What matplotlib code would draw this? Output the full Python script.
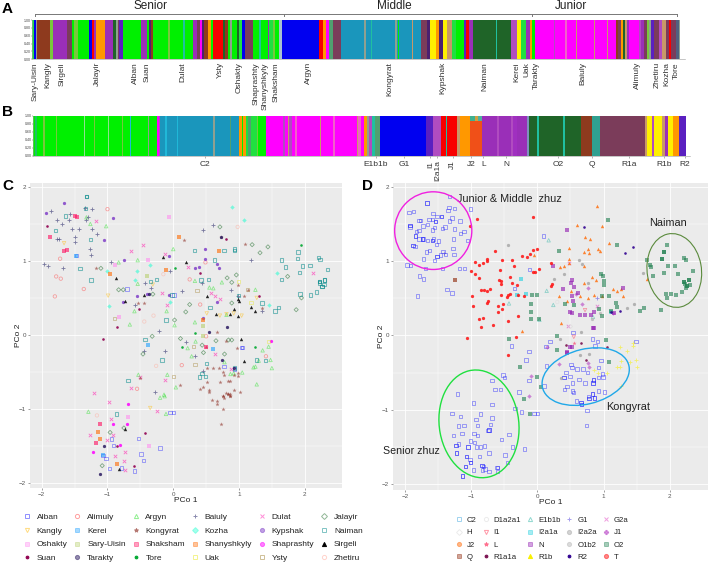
import numpy as np
import matplotlib
matplotlib.use('Agg')
import matplotlib.pyplot as plt
from matplotlib.lines import Line2D
from matplotlib.patches import Ellipse

plt.rcParams['font.family'] = ['Liberation Sans', 'DejaVu Sans']

# colours of the admixture bars
GRN = '#00f000'; OLV = '#78c83c'; TEA = '#20c0a0'; BLU = '#0000f0'; BRW = '#8e3a1e'; PUR = '#9a2fb8'
MAR = '#7b3c5a'; RED = '#f80000'; ORG = '#ff9800'; DGR = '#1f6428'; STL = '#1a96bc'; YEL = '#fff000'
MAG = '#ff00ff'; ORC = '#b04cc0'; TAN = '#c89868'; GRY = '#90a090'; LIM = '#20e040'; VIO = '#5a20c0'
DPU = '#4a2070'; CYA = '#20b8d8'; PNK = '#f060c8'; OTE = '#50a070'; ORD = '#f05018'

# panel A, sample index along the bar
a_edges = [97, 101, 107, 112, 150, 158, 202, 216, 222, 234, 268, 275, 281, 287, 316, 340, 348, 353, 358, 370, 424, 441,
           447, 453, 460, 505, 509, 550, 554, 580, 590, 600, 606, 612, 625, 632, 640, 668, 676, 684, 690, 695, 710, 716,
           726, 735, 758, 778, 782, 804, 808, 818, 826, 838, 846, 958, 970, 978, 988, 998, 1022,
           1092, 1098, 1112, 1116, 1186, 1190, 1194, 1197, 1237, 1240, 1264, 1280, 1290, 1307, 1317, 1330, 1342, 1357,
           1367, 1392, 1398, 1408, 1418, 1489, 1492, 1534, 1552, 1562, 1577, 1590, 1596, 1604, 1662, 1665, 1696, 1700,
           1727, 1730, 1782, 1785, 1822, 1825, 1847, 1854, 1862, 1868, 1874, 1880, 1887, 1917, 1924, 1932, 1940, 1947,
           1954, 1962, 1977, 1987, 1997, 2007, 2012, 2027, 2037, 2040]
a_colors = [LIM, BLU, GRY, BRW, OLV, PUR, MAR, GRN, OLV, GRN, BLU, RED, PUR, ORG, PUR, DGR, GRY, MAR, VIO, GRN, PUR,
            GRN, DPU, BRW, GRN, OLV, GRN, TEA, GRN, PUR, MAR, MAG, DPU, BRW, ORG, GRN, RED, DGR, BRW, GRN, GRY, GRN, DGR, LIM,
            BLU, MAR, GRN, TEA, GRN, PUR, LIM, OLV, GRN, '#a8c0d0', BLU, RED, ORG, MAG, OTE, MAR,
            STL, GRY, STL, TEA, STL, GRY, STL, GRN, STL, TAN, STL, MAR, DPU, YEL, ORG, DPU, YEL, TAN, LIM,
            GRN, VIO, RED, PUR, DGR, TEA, DGR, ORC, YEL, LIM, PUR, ORG, GRN, MAG, ORC, MAG, PNK, MAG,
            TAN, MAG, TAN, MAG, TAN, MAG, BRW, MAR, ORG, DGR, TAN, PUR, MAG, ORC, PUR, MAR, OLV, GRY, VIO,
            MAR, ORC, TAN, MAR, RED, MAR, '#506080', GRY]
a_names = ['Sary-Uisin', 'Kangly', 'Sirgeli', 'Jalayir', 'Alban', 'Suan', 'Dulat', 'Ysty', 'Oshakty', 'Shaprashty',
           'Shanyshkyly', 'Shaksham', 'Argyn', 'Kongyrat', 'Kypshak', 'Naiman', 'Kerei', 'Uak', 'Tarakty', 'Baiuly',
           'Alimuly', 'Zhetiru', 'Kozha', 'Tore']
a_name_pos = [105, 143, 187, 293, 405, 442, 548, 660, 717, 767, 795, 827, 925, 1170, 1327, 1454, 1550, 1579, 1610, 1747,
              1912, 1970, 2000, 2029]
zhuz_names = ['Senior', 'Middle', 'Junior']
zhuz_pos = [450, 1182, 1714]
zhuz_edges = [106, 851, 1597, 2032]

# panel B
b_edges = [100, 106, 110, 128, 135, 168, 171, 252, 255, 283, 286, 325, 328, 365, 368, 390, 393, 444, 447, 472, 476, 480,
           495, 500, 530, 533, 640, 645, 690, 693, 716, 725, 730, 738, 745, 752, 770, 775, 798, 850, 856, 865, 868, 875,
           885, 890, 960, 964, 1000, 1004, 1070, 1075, 1082, 1092, 1100, 1108, 1115, 1124, 1140, 1279, 1299, 1324, 1337,
           1340, 1372, 1380, 1409, 1447, 1492, 1496, 1532, 1538, 1552, 1582, 1587, 1612, 1617, 1690, 1694, 1742, 1777,
           1800, 1934, 1942, 1955, 1962, 1987, 1994, 2005, 2020, 2037, 2057]
b_colors = [GRN, '#20c060', GRN, OLV, GRN, OLV, GRN, '#90e090', GRN, OLV, GRN, '#90e090', GRN, OLV, GRN, CYA, GRN, GRY,
            GRN, MAG, ORC, STL, CYA, STL, CYA, STL, GRY, STL, OTE, STL, ORG, GRN, ORG, LIM, OTE, LIM, OLV, GRN, MAG, ORC,
            MAG, TAN, ORC, MAG, PNK, MAG, TAN, MAG, PNK, MAG, TAN, PNK, MAG, ORG, GRY, ORC, TEA, OTE, BLU, VIO, ORC, RED,
            TEA, RED, TAN, ORG, ORD, PUR, ORC, PUR, ORC, '#a030c0', PUR, '#8090c0', DGR, TEA, DGR, TEA, DGR, BRW, '#30a090',
            MAR, TAN, YEL, ORC, YEL, TAN, PUR, YEL, ORG, VIO]
b_names = ['C2', 'E1b1b', 'G1', 'I1', 'I2a1a', 'J1', 'J2', 'L', 'N', 'O2', 'Q', 'R1a', 'R1b', 'R2']
b_name_pos = [616, 1127, 1212, 1291, 1312, 1358, 1414, 1450, 1519, 1674, 1775, 1886, 1992, 2054]
b_top_start = [1409, 1424, 1434]
b_top_end = [1424, 1434, 1447]
b_top_frac = [0.87, 0.87, 0.87]
b_top_color = ['#40b090', '#d0a040', '#50b0a0']

# panel C, PCo 1 / PCo 2 by clan
alban = [(-.53, -1.40), (-.20, -1.53), (-.94, -1.41), (-.91, -1.50), (-.49, -1.61), (-.45, -1.70), (-1.02, -1.67), (-1.07, -1.63),
         (-.97, -1.81), (-.79, -1.80), (-.59, -1.84), (1.05, -.17), (.77, -.43), (.93, -.46), (0, -1.05), (-.05, -1.05), (-.70, .62),
         (-1.47, 1.07), (.01, .54), (1.04, -.17)]
alimuly = [(-1.00, 1.70), (-1.72, 1.03), (-1.78, .79), (-1.71, .76), (-1.36, .62), (.49, .98), (.25, .75), (.41, .41), (-1.80, .52),
           (.50, -.02), (-.55, -.73), (.13, -.41), (1.41, -.29)]
argyn = [(-1.26, 1.50), (-1.32, 1.59), (-1.02, 1.47), (-.83, .98), (-.54, 1.01), (0, 1.16), (-.54, .69), (-.59, .32), (-.66, .14),
         (.33, .73), (.74, .71), (.55, .64), (.81, .27), (-.10, .32), (.02, .13), (.33, .17), (1.25, .61), (.61, .63), (-.53, -.54),
         (-.09, -.54), (-.14, -.81), (-.13, -.83), (-.20, -.85), (-.11, -1.07), (.04, -.71), (-1.29, -1.04), (.87, -.53), (.92, -.52),
         (1.05, -.51), (1.27, -.67), (1.45, -.16), (1.50, -.45), (1.36, -.21), (.28, -.29), (.78, -.37), (.22, -.18), (.34, -.09),
         (1.22, -.44), (1.25, -.43), (1.48, -.34), (1.30, -.35)]
baiuly = [(-1.86, 1.67), (-1.57, 1.63), (-1.77, 1.56), (-1.69, 1.50), (-1.59, 1.56), (-1.54, 1.43), (-1.44, 1.43), (-1.23, 1.43),
          (-1.32, 1.55), (-1.29, 1.59), (-1.23, 1.70), (-1.34, 1.71), (-1.96, .96), (-1.91, .93), (-1.68, .90), (-1.49, 1.32),
          (-1.50, 1.26), (-1.77, 1.30), (-1.73, 1.29), (-1.16, 1.37), (-1.27, 1.16), (-1.25, 1.08), (-.95, .99), (-.43, .70),
          (-.34, .63), (-.58, .40), (-.22, .05), (.13, .59), (.45, 1.42), (.60, 1.48), (-.05, .87), (.88, .60), (1.18, 1.01),
          (1.35, .32), (.44, .70), (.99, .52), (-.44, -.22), (-.13, -.22), (.20, -.10), (.33, -.28), (.45, -.49), (-.27, -.77)]
dulat = [(-1.17, 1.54), (-.64, 1.14), (-.46, 1.22), (-.12, 1.10), (.22, .92), (2.13, .83), (-.09, .41), (-.17, .56), (.57, .56),
         (.64, .52), (.71, .48), (-1.20, -.79), (-.97, -.91), (-.25, -1.03), (-.64, -.72), (-.50, -.57), (-.13, -.61), (-.94, -1.14),
         (-1.27, -1.35), (-.92, -1.35), (-1.01, -1.42), (-.73, -1.58), (-.89, -1.64), (-.75, -1.71), (-.73, -1.83), (.88, -.46), (.64, -.26)]
jalayir = [(.71, 1.46), (1.20, 1.22), (1.32, 1.11), (1.44, 1.19), (1.74, .79), (1.87, .34), (1.95, .50), (-1.10, .90), (-.83, .61),
           (-.76, .61), (-.31, .55), (.25, .41), (.19, .31), (.02, .20), (-.32, -.02), (.11, -.05), (.44, -.14), (.82, .77), (.96, .81),
           (.89, .71), (.89, .43), (.89, -.07), (.65, -.08), (.84, -.07), (-.46, -.26), (-.96, -1.32), (-1.08, -1.77), (-.75, -1.26),
           (.46, -.24), (.78, -.26)]
kangly = [(-.99, .53), (-.31, .68), (.51, .29), (.71, .26), (.81, .28), (.92, .29), (1.04, .26), (1.27, .50), (-1.66, 1.24), (-.35, -.99)]
kerei = [(-.38, -.14), (-1.48, 1.07), (-1.07, -1.63), (.60, -.19)]
kongyrat = [(.51, -.64), (.41, -.73), (.45, -.70), (.54, -.75), (.54, -.77), (.59, -.88), (.66, -.90), (.66, -.93), (.71, -.64), (.75, -.50),
            (.77, -.54), (.84, -.63), (.86, -.62), (.92, -.55), (.99, -.56), (.99, -.52), (.93, -.74), (1.01, -.77), (.84, -.80), (.81, -.79),
            (.76, -.83), (.77, -.86), (.87, -.83), (.75, -1.01), (.73, -1.21), (.60, -.45), (.69, -.45), (.51, -.45), (.10, -.68), (-.51, -.58),
            (.16, 1.28), (1.09, 1.23), (.99, .67), (1.08, .52), (1.35, .36), (.66, .04), (-.53, .43), (-.44, .43), (1.14, .61), (-1.18, .90),
            (.73, 1.32), (.81, -.08), (.97, -.18), (.50, -.17), (.84, -.80), (.87, -.83), (.76, -.83), (.87, -.80)]
kozha = [(.90, 1.73), (1.07, 1.55), (-1.01, .87), (-.55, .87), (-.35, .94), (-.58, .74), (-.97, .39), (-.05, .45), (1.45, .41), (1.58, .83)]
kypshak = [(-1.66, 1.78), (-1.93, 1.65), (-.91, 1.58), (-1.06, 1.28), (.49, 1.16), (.48, 1.02), (.39, .92), (.33, .90), (.66, .96), (.70, .91),
           (-.75, 1.01), (-.76, .45), (-.55, .53), (-.40, .55), (-.07, .54), (.67, .44), (.46, .23), (-.06, 1.07)]
naiman = [(1.90, 1.12), (1.89, 1.03), (2.21, 1.05), (2.23, 1.02), (1.65, 1.01), (1.71, .92), (2.08, .94), (1.97, .93), (2.35, .88), (1.92, .84),
          (1.65, .75), (2.22, .72), (2.30, .74), (2.22, .70), (2.26, .65), (2.29, .68), (2.18, .58), (2.09, .54), (1.93, .55), (-1.25, .74),
          (-1.42, .90), (-1.33, 1.71), (-1.32, 1.87), (-1.26, 1.29), (-1.79, 1.41), (-1.64, 1.61), (.32, 1.14), (.77, 1.14), (.93, 1.14), (.93, 1.16),
          (.63, 1.01), (.42, .74), (.54, .75), (-.35, .72), (-.25, .75), (-.02, .54), (.56, .37), (.99, .53), (1.55, .32), (1.60, .37), (1.35, .43),
          (-.11, .20), (-.43, -.06), (-.69, -.62), (-.86, -1.07), (.51, -.39), (.44, -.52), (.40, -.57), (.49, -.56), (-.17, -.34), (.93, -.45),
          (1.40, -.35), (1.27, -.34), (2.22, .72), (2.30, .74), (2.26, .65), (-1.32, 1.87)]
oshakty = [(-.07, 1.59), (-.83, .24), (-.38, 1.01), (-.88, .95), (-.69, -1.11), (-.37, -1.50)]
sary_uisin = [(-.40, .79), (.46, .12), (.46, -.02)]
shaksham = [(-1.88, 1.33), (-1.61, 1.15), (-1.66, 1.13), (-1.50, 1.61), (-1.46, 1.60), (-1.18, -1.46), (-1.11, -1.21), (.50, -.16)]
shanyshkyly = [(.09, 1.33), (.69, 1.13), (-.96, .82), (-.11, .88), (.46, .20), (-1.14, -1.32), (-1.11, -1.41), (-.85, -1.75)]
shaprashty = [(-.69, -.93), (-.71, -1.21), (-.91, -1.21), (-1.22, -1.58), (-.81, -1.49), (1.48, -.09)]
sirgeli = [(-.16, 1.05), (.20, .98), (-.87, .77), (-.74, .46), (-.44, .54), (.52, .53), (.98, .48), (1.00, .46), (.93, .35), (.65, .28), (.87, .28),
           (.98, .25), (1.18, .38), (1.25, .32), (1.03, -.06), (1.08, -.36), (-.73, -1.28), (-.83, -1.81)]
suan = [(-1.92, 1.47), (-.86, .11), (-1.07, -.05), (-.52, .35), (.80, 1.30), (.40, .83), (1.30, .52), (-.43, -1.33), (-.86, -1.50), (-.60, -1.78)]
tarakty = [(.54, .04), (-.37, .55), (.73, 1.32), (.82, .10), (.74, -.34), (.93, -.45), (-1.05, -1.50), (-1.12, -1.88)]
tore = [(1.95, 1.22), (.03, .90), (.33, .03), (.13, -.16), (1.24, -.17)]
uak = [(.99, .72), (1.18, .44), (1.45, -.09)]
ysty = [(-.89, .22), (.36, .60), (1.13, .61), (.31, -.16), (.33, -.40), (0, -.56)]
zhetiru = [(-.30, .26), (-.44, .18), (-.15, .82), (.98, 1.46), (-.26, -.42), (-1.16, -1.09)]

c_labels = ['Alban', 'Alimuly', 'Argyn', 'Baiuly', 'Dulat', 'Jalayir', 'Kangly', 'Kerei', 'Kongyrat', 'Kozha', 'Kypshak', 'Naiman',
            'Oshakty', 'Sary-Uisin', 'Shaksham', 'Shanyshkyly', 'Shaprashty', 'Sirgeli', 'Suan', 'Tarakty', 'Tore', 'Uak', 'Ysty', 'Zhetiru']
c_points = [alban, alimuly, argyn, baiuly, dulat, jalayir, kangly, kerei, kongyrat, kozha, kypshak, naiman,
            oshakty, sary_uisin, shaksham, shanyshkyly, shaprashty, sirgeli, suan, tarakty, tore, uak, ysty, zhetiru]
c_markers = ['s', 'o', '^', '+', 'x', 'D', 'v', 'S', '*', 'd', 'O', 'N',
             'S', 'S', 'S', 'S', 'O', 'T', 'p', 'O', 'p', 's', 's', 'o']
c_cols = ['#2020ff', '#ff4040', '#20e020', '#1a1a60', '#ff20b0', '#257030', '#ffb800', '#20a0ff', '#8b2a20', '#20ffd0', '#8040c8', '#008888',
          '#ff90f0', '#b8d070', '#ff1060', '#ff6a00', '#ff00ff', '#000000', '#900050', '#2a1a60', '#00a830', '#e8e820', '#a08030', '#ffa898']

# panel D, PCo 1 / PCo 2 by haplogroup
c2 = [(-1.33, 1.87), (-1.67, 1.78), (-1.94, 1.65), (-1.87, 1.67), (-1.58, 1.64), (-1.52, 1.60), (-1.45, 1.60), (-1.34, 1.72), (-1.25, 1.71),
      (-1.35, 1.68), (-1.01, 1.70), (-1.29, 1.58), (-1.33, 1.54), (-1.17, 1.54), (-1.79, 1.55), (-1.77, 1.55), (-1.93, 1.48), (-1.93, 1.46),
      (-1.64, 1.56), (-1.59, 1.56), (-1.54, 1.53), (-1.66, 1.49), (-1.73, 1.47), (-1.25, 1.43), (-1.59, 1.42), (-1.56, 1.45), (-1.44, 1.44),
      (-1.40, 1.46), (-1.11, 1.40), (-1.16, 1.37), (-1.79, 1.41), (-1.83, 1.40), (-1.84, 1.34), (-1.79, 1.30), (-1.74, 1.30), (-1.72, 1.30),
      (-1.59, 1.28), (-1.57, 1.30), (-1.66, 1.28), (-1.50, 1.27), (-1.27, 1.30), (-1.06, 1.28), (-1.88, 1.21), (-1.85, 1.20), (-1.53, 1.22),
      (-1.63, 1.14), (-1.68, 1.12), (-1.28, 1.17), (-1.43, 1.13), (-1.72, 1.03), (-1.56, 1.01), (-1.52, 1.06), (-1.47, 1.08), (-1.39, 1.09),
      (-1.26, 1.09), (-1.97, .95), (-1.92, .94), (-1.69, .90), (-1.44, .90), (-1.18, .90), (-1.10, .90), (-1.78, .80), (-1.72, .76), (-1.81, .53),
      (-1.37, .62), (-1.29, .57), (.09, 1.34), (-.12, .89), (-.35, .63), (-.39, -.14), (.54, .04), (.83, -.05), (.91, -.08), (.19, -.08), (.13, -.15),
      (.87, -.14), (1.49, -.08), (-.13, -.22), (-.17, -.33), (.14, -.41), (-.52, -.53), (-.50, -.57), (-.69, -.61), (-.64, -.73), (-.56, -.73),
      (-.13, -.61), (-.28, -.76), (.10, -.68), (-1.21, -.79), (-.97, -.91), (-.69, -.93), (-.34, -.98), (-.24, -1.03), (-.05, -1.05), (0, -1.05),
      (-1.29, -1.05), (-1.16, -1.09), (-.86, -1.06), (-.93, -1.13), (-.69, -1.11), (-1.11, -1.21), (-1.19, -1.22), (-.91, -1.21), (-.71, -1.20),
      (-.73, -1.27), (-.75, -1.28), (-.96, -1.32), (-.91, -1.35), (-1.14, -1.32), (-1.27, -1.35), (-.43, -1.33), (-.54, -1.40), (-1.01, -1.42),
      (-.95, -1.44), (-1.23, -1.48), (-1.19, -1.46), (-1.05, -1.50), (-.92, -1.50), (-.86, -1.50), (-.80, -1.49), (-.38, -1.50), (-.20, -1.53),
      (-.73, -1.58), (-1.22, -1.58), (-.49, -1.61), (-1.07, -1.63), (-.88, -1.63), (-1.02, -1.67), (-1.01, -1.71), (-.45, -1.71), (-1.09, -1.76),
      (-.84, -1.75), (-.82, -1.76), (-.79, -1.80), (-.83, -1.81), (-.97, -1.81), (-.73, -1.83), (-.61, -1.78), (-.60, -1.83), (-1.13, -1.89),
      (.40, -.57), (.49, -.55), (.43, -.50), (.52, -.43), (.51, -.39), (.60, -.45), (.69, -.45), (.76, -.50), (.92, -.43), (.96, -.34), (.98, -.52),
      (.99, -.56), (.53, -.64), (.63, -.59), (.72, -.64), (.84, -.64), (.85, -.60), (.92, -.57), (.45, -.69), (.41, -.73), (.53, -.75), (.55, -.77),
      (1.01, -.76), (.92, -.75), (.83, -.79), (.77, -.82), (.86, -.84), (.78, -.85), (.59, -.88), (.66, -.90), (.67, -.93), (.75, -1.01), (.74, -1.21)]
# same spot twice, these print darker in the reference
c2_repeat = [(-1.67, 1.78), (-1.93, 1.48), (-1.84, 1.34), (-1.74, 1.30), (-1.59, 1.28), (-1.52, 1.06), (-1.88, 1.21), (-1.45, 1.60), (-1.54, 1.53),
             (.85, -.60), (.84, -.64), (.78, -.85), (.86, -.84), (.66, -.90), (.67, -.93), (.83, -.79), (.40, -.57), (-1.13, -1.89), (-1.23, -1.48),
             (-1.05, -1.50), (-1.22, -1.58), (-1.07, -1.63), (-1.01, -1.71), (-1.09, -1.76), (-.84, -1.75), (-.60, -1.78), (-.73, -1.27)]
d1a2a1 = [(.30, .45)]
e1b1b = [(.17, 1.28), (.14, .60), (.24, .41), (-.43, .43), (.03, .21), (.84, .25)]
g1 = [(-1.42, 1.11), (.90, .50)]
g2a = [(.48, .98), (.46, .13), (.90, .40)]
h = [(.50, .12)]
i1 = [(.72, .34), (.55, -.02)]
i2a1a = [(-.25, .76), (-.18, .56), (-.31, .55), (1.11, .31)]
i2a2a = [(-.45, 1.21), (.63, 1.02), (.67, .96), (.25, .76), (.40, .83), (.76, .71), (1.59, .84), (1.46, .42), (1.35, .37), (.66, .04), (.34, -.05),
         (.65, -.26), (.78, -.25), (.35, -.57)]
j1 = [(.76, .64), (.58, .56), (.68, .42), (1.15, .30), (.77, -.37), (.78, -.43), (.33, -.39), (-.09, -.55), (-.13, -.82), (.14, -.16)]
j2 = [(.90, 1.74), (.60, 1.48), (.97, 1.47), (1.09, 1.24), (.72, 1.32), (.80, 1.30), (.92, 1.16), (.94, 1.14), (.48, 1.17), (.70, 1.12), (.76, 1.16),
      (.78, 1.11), (-.05, 1.08), (.48, 1.03), (.34, .92), (.40, .93), (.70, .93), (.47, .98), (1.66, .76), (.82, .78), (.88, .75), (.70, .71), (1.14, .62),
      (1.21, .60), (1.26, .62), (.86, .55), (.98, .53), (1.29, .53), (.65, .53), (.51, .60), (.33, .53), (.45, .46), (-.24, .06), (.35, .17), (.76, .51)]
l_hap = [(.55, -.10)]
n_hap = [(.45, 1.42), (.23, .93), (.53, .75), (.51, .71), (.39, .63), (.56, .65), (.52, .53), (.54, .46), (.62, .57), (1.29, .64), (.84, .10), (.86, .10),
         (.49, .31), (.52, .30), (.65, .28), (.72, .28), (.81, .28), (.85, .31), (1.16, .30), (.45, -.23), (.50, -.15), (.52, -.16), (.45, -.22)]
o1b2 = [(.95, .30), (.82, .22)]
o2 = [(1.07, 1.55), (1.20, 1.22), (.32, 1.14), (.96, .82), (.99, .80), (1.00, .73), (1.00, .68), (1.96, 1.21), (1.91, 1.12), (1.89, 1.03), (2.21, 1.04),
      (2.25, 1.02), (1.97, .94), (2.08, .94), (2.35, .87), (1.71, .95), (1.72, .92), (1.65, 1.01), (1.92, .84), (2.13, .83), (1.75, .80), (2.22, .72),
      (2.30, .74), (2.23, .69), (2.26, .66), (2.25, .64), (2.31, .68), (1.94, .56), (2.02, .56), (2.19, .58), (2.10, .54), (1.96, .51), (1.87, .34),
      (1.61, .37), (1.55, .33), (-.08, .54), (0, .54), (.03, .22), (-.10, .22), (-.09, .42), (-.09, .31), (-.43, -.05), (.41, .42), (.56, .41), (.98, .53),
      (1.09, .53), (1.19, .44), (1.21, .38), (1.11, .33), (.98, .26), (.93, .35), (.30, -.01), (1.04, -.06), (-.27, -.42), (-.01, -.56), (.05, -.69),
      (-.20, -.85), (-.11, -1.06), (1.08, -.36), (.30, -.19), (2.22, .72), (2.30, .74), (2.26, .66), (1.91, 1.12), (1.89, 1.03)]
q_hap = [(-1.25, .74)]
r1a1a = [(.74, -.33), (.43, -.13), (1.05, -.16), (.66, -.10)]
r1b = [(1.25, -.16), (1.45, -.10), (1.45, -.14), (1.36, -.21), (1.26, -.34), (1.40, -.36), (1.49, -.33), (1.21, -.43), (1.25, -.43), (1.50, -.43),
       (.86, -.46), (.92, -.50), (1.05, -.51), (1.26, -.68)]
r2 = [(.71, 1.46), (1.44, 1.19), (1.32, 1.11), (1.25, .33), (1.12, .31)]
t_hap = [(-.91, 1.57), (-.07, 1.59), (-1.02, 1.47), (-.64, 1.14), (0, 1.16), (-.07, 1.15), (-.16, 1.06), (-.11, 1.10), (-.23, 1.07), (-.95, .99), (-.83, .98),
         (-.76, 1.03), (-.76, 1.00), (-.88, .95), (-.54, 1.01), (-.39, 1.01), (-.36, .94), (-1.01, .87), (-.95, .82), (-.56, .88), (-.04, .86), (-.07, .86),
         (.03, .90), (.20, .97), (-.88, .77), (-.58, .75), (-.55, .73), (-.41, .79), (-.39, .71), (-.55, .69), (-.31, .68), (-.85, .61), (-.81, .61), (-.77, .60),
         (-.71, .62), (.22, .69), (.20, .67), (-.99, .53), (-.55, .54), (-.45, .54), (-.46, .52), (-.42, .56), (-.29, .55), (-.21, .53), (-.97, .40), (-.75, .46),
         (-.77, .44), (-.59, .39), (-.52, .42), (-.53, .35), (-.59, .32), (-.29, .26), (-.89, .22), (-.83, .24), (-.86, .12), (-.67, .14), (-.45, .19), (-1.07, -.04),
         (-.33, -.02), (-.45, -.26)]

d_labels = ['C2', 'D1a2a1', 'E1b1b', 'G1', 'G2a', 'H', 'I1', 'I2a1a', 'I2a2a', 'J1', 'J2', 'L', 'N', 'O1b2', 'O2', 'Q', 'R1a1a', 'R1b', 'R2', 'T']
d_points = [c2 + c2_repeat, d1a2a1, e1b1b, g1, g2a, h, i1, i2a1a, i2a2a, j1, j2, l_hap, n_hap, o1b2, o2, q_hap, r1a1a, r1b, r2, t_hap]
d_markers = ['s', 'o', '^', '+', 'x', 'D', 'v', 'S', 'O', 'P', 'T', '*', 'S', 'O', 'S', 'S', 'p', '+', 'p', 'O']
d_cols = ['#1818ff', '#d8d8d8', '#20b0a0', '#5040e0', '#e040c0', '#d8d8d8', '#ff3050', '#20d0e0', '#a8a8a8', '#b030c0', '#ff7010', '#ff2050',
          '#9018b0', '#b8b8b8', '#208050', '#8b2000', '#7a1050', '#f8f000', '#300090', '#ff1010']
d_legend_marker = {'R1b': 'T', 'J2': 'O'}
d_legend_color = {'C2': '#40a8e0'}


def px_axes(left, top, right, bottom):
    return fig.add_axes([left / 708, 1 - bottom / 563, (right - left) / 708, (bottom - top) / 563])


# letters S, O, T, N, p stand for filled square, filled circle, filled triangle, boxed square, small dot
def draw_group(ax, pts, marker, color):
    xs = [p[0] for p in pts]
    ys = [p[1] for p in pts]
    if marker == 'S':
        ax.scatter(xs, ys, marker='s', s=5.5, color=color, alpha=.6, linewidths=0, zorder=3)
    elif marker == 'O':
        ax.scatter(xs, ys, marker='o', s=5.5, color=color, alpha=.85, linewidths=0, zorder=3)
    elif marker == 'T':
        ax.scatter(xs, ys, marker='^', s=6, color=color, alpha=.85, linewidths=0, zorder=3)
    elif marker == 'p':
        ax.scatter(xs, ys, marker='o', s=3.5, color=color, alpha=.9, linewidths=0, zorder=3)
    elif marker == 'N':
        ax.scatter(xs, ys, marker='s', s=6, facecolors='none', edgecolors=color, alpha=.5, linewidths=.75, zorder=3)
    elif marker == '+':
        ax.scatter(xs, ys, marker='+', s=11, color=color, alpha=.55, linewidths=.6, zorder=3)
    elif marker == 'x':
        ax.scatter(xs, ys, marker='x', s=6, color=color, alpha=.6, linewidths=.6, zorder=3)
    elif marker == '*':
        ax.scatter(xs, ys, marker='*', s=10, color=color, alpha=.6, linewidths=0, zorder=3)
    elif marker in ['P', 'd']:
        ax.scatter(xs, ys, marker='D', s=5, color=color, alpha=.55, linewidths=0, zorder=3)
    elif marker == 'D':
        ax.scatter(xs, ys, marker='D', s=4.5, facecolors='none', edgecolors=color, alpha=.55, linewidths=.6, zorder=3)
    else:
        ax.scatter(xs, ys, marker=marker, s=6, facecolors='none', edgecolors=color, alpha=.45, linewidths=.6, zorder=3)


def legend_handle(marker, color):
    style = {'S': ('s', True, .4), 'O': ('o', True, .5), 'T': ('^', True, 1), 'p': ('o', True, 1), 'N': ('s', False, .5),
             '*': ('*', True, .5), 'P': ('P', True, .5), 'd': ('D', True, .4)}
    m, filled, alpha = style.get(marker, (marker, False, .5))
    size = 2 if marker == 'p' else 3
    return Line2D([], [], linestyle='', marker=m, markersize=size, color=color, alpha=alpha, markeredgewidth=.7,
                  markerfacecolor=color if filled else 'none')


def style_gg(ax, xlim, ylim):
    ax.set_facecolor('#ebebeb')
    ax.set_xlim(*xlim)
    ax.set_ylim(*ylim)
    for s in ax.spines.values():
        s.set_visible(False)
    ax.set_xticks([-2, -1, 0, 1, 2])
    ax.set_yticks([-2, -1, 0, 1, 2])
    ax.set_xticks([-1.5, -.5, .5, 1.5], minor=True)
    ax.set_yticks([-1.5, -.5, .5, 1.5], minor=True)
    ax.grid(True, which='major', color='white', linewidth=.6)
    ax.grid(True, which='minor', color='white', linewidth=.3)
    ax.set_axisbelow(True)
    ax.tick_params(which='major', labelsize=4.5, colors='#555555', length=1.5, width=.4, pad=1.5)
    ax.tick_params(which='minor', length=0)
    ax.set_xlabel('PCo 1', fontsize=6, color='#222222', labelpad=0)
    ax.set_ylabel('PCo 2', fontsize=6, color='#222222', labelpad=-2.5)


def style_bar(ax):
    ax.set_ylim(0, 1)
    ax.set_yticks([0, .2, .4, .6, .8, 1])
    ax.set_yticklabels(['0.00', '0.20', '0.40', '0.60', '0.80', '1.00'])
    ax.tick_params(axis='y', labelsize=2.6, length=.8, width=.3, pad=.5, colors='#444444')
    for s in ['top', 'right']:
        ax.spines[s].set_visible(False)
    for s in ['left', 'bottom']:
        ax.spines[s].set_linewidth(.4)
        ax.spines[s].set_color('#999999')


fig = plt.figure(figsize=(7.08, 5.63), dpi=100)

# A
ax_a = px_axes(32.3, 20, 684.5, 59.3)
ax_a.bar(a_edges[:-1], 1, width=np.diff(a_edges), align='edge', color=a_colors, linewidth=0)
ax_a.set_xlim(97, 2053)
style_bar(ax_a)
ax_a.set_xticks(a_name_pos)
ax_a.set_xticklabels(a_names, rotation=90, fontsize=6, color='#333333')
ax_a.tick_params(axis='x', length=0, pad=2)
ax_a.plot([zhuz_edges[0], zhuz_edges[-1]], [1.16, 1.16], color='#777777', linewidth=.7, clip_on=False)
for e in zhuz_edges:
    ax_a.plot([e, e], [1.1, 1.16], color='#777777', linewidth=.7, clip_on=False)
for name, x in zip(zhuz_names, zhuz_pos):
    ax_a.text(x, 1.36, name, fontsize=8.5, color='#222222', ha='center', va='center')

# B
ax_b = px_axes(33.3, 115.7, 690, 155.7)
ax_b.bar(b_edges[:-1], 1, width=np.diff(b_edges), align='edge', color=b_colors, linewidth=0)
ax_b.bar(b_top_start, [1 - f for f in b_top_frac], bottom=b_top_frac, width=np.array(b_top_end) - np.array(b_top_start),
         align='edge', color=b_top_color, linewidth=0)
ax_b.set_xlim(100, 2070)
style_bar(ax_b)
ax_b.set_xticks(b_name_pos)
ax_b.set_xticklabels(b_names, fontsize=6, color='#333333')
ax_b.tick_params(axis='x', length=1.5, width=.4, pad=2, color='#777777')
for lab in ax_b.get_xticklabels():
    if lab.get_text() in ['I1', 'I2a1a', 'J1']:
        lab.set_rotation(90)
        lab.set_va('top')

# C
ax_c = px_axes(30, 182.7, 341.7, 488.3)
style_gg(ax_c, (-2.178, 2.562), (-2.076, 2.058))
for pts, m, col in zip(c_points, c_markers, c_cols):
    draw_group(ax_c, pts, m, col)
h_c = [legend_handle(m, col) for m, col in zip(c_markers, c_cols)]
order = [r * 6 + k for k in range(6) for r in range(4)]
fig.legend([h_c[i] for i in order], [c_labels[i] for i in order], ncols=6, fontsize=6, frameon=False, loc='upper left',
           bbox_to_anchor=(21.4 / 708, 1 - 513 / 563), labelspacing=.72, columnspacing=.5, handletextpad=.5, handlelength=1.35, borderpad=0,
           borderaxespad=0, labelcolor='#222222')

# D
ax_d = px_axes(393.3, 182.7, 708, 490)
style_gg(ax_d, (-2.18, 2.58), (-2.08, 2.055))
for pts, m, col in zip(d_points, d_markers, d_cols):
    draw_group(ax_d, pts, m, col)
h_d = []
for lab, m, col in zip(d_labels, d_markers, d_cols):
    h_d.append(legend_handle(d_legend_marker.get(lab, m), d_legend_color.get(lab, col)))
order = [r * 5 + k for k in range(5) for r in range(4)]
fig.legend([h_d[i] for i in order], [d_labels[i] for i in order], ncols=5, fontsize=5.6, frameon=False, loc='upper left',
           bbox_to_anchor=(453.6 / 708, 1 - 516.5 / 563), labelspacing=.64, columnspacing=.5, handletextpad=.33, handlelength=1.35, borderpad=0,
           borderaxespad=0, labelcolor='#222222')

ax_d.add_patch(Ellipse((-1.576, 1.41), 1.167, 1.045, fill=False, edgecolor='#f020e0', linewidth=1, zorder=4))
ax_d.add_patch(Ellipse((-.884, -1.19), 1.2, 1.46, angle=12, fill=False, edgecolor='#20e040', linewidth=1, zorder=4))
ax_d.add_patch(Ellipse((.73, -.554), 1.34, .74, angle=12, fill=False, edgecolor='#20a8e8', linewidth=1, zorder=4))
ax_d.add_patch(Ellipse((2.07, .874), .82, 1.0, angle=12, fill=False, edgecolor='#5a8a3c', linewidth=.8, zorder=4))
ax_d.text(-1.21, 1.84, 'Junior & Middle  zhuz', fontsize=7.8, color='#222222', va='center')
ax_d.text(1.69, 1.515, 'Naiman', fontsize=7.8, color='#222222', va='center')
ax_d.text(1.035, -.96, 'Kongyrat', fontsize=7.8, color='#222222', va='center')
ax_d.text(-2.34, -1.55, 'Senior zhuz', fontsize=7.7, color='#222222', va='center')

for letter, x, y in [('A', 2, 9), ('B', 2, 112), ('C', 2, 186), ('D', 362, 186)]:
    fig.text(x / 708, 1 - y / 563, letter, fontsize=11, fontweight='bold', color='black', va='center')

fig.savefig('out.png', dpi=100)
